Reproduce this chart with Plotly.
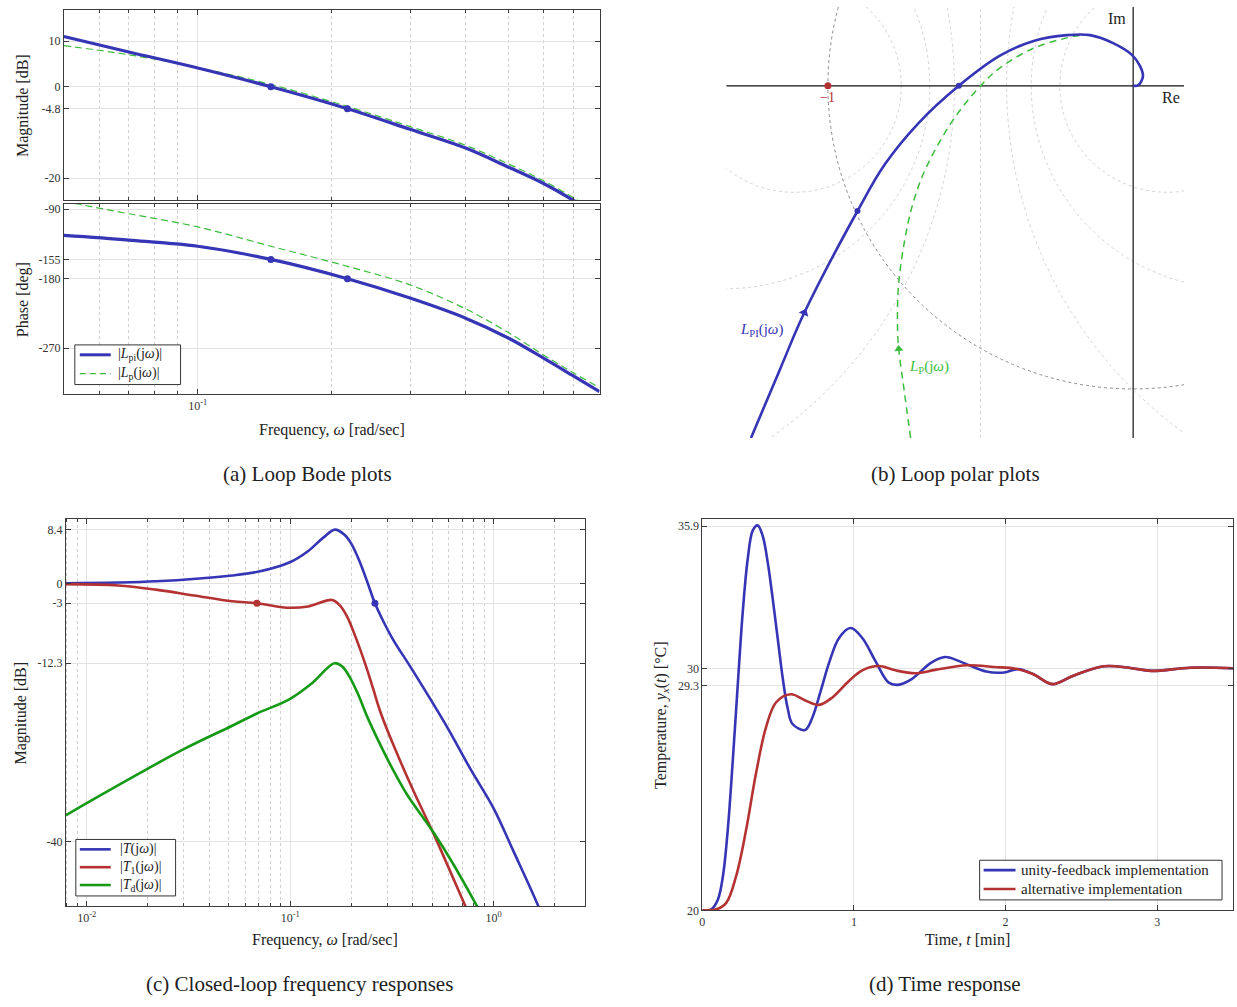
import plotly.graph_objects as go
import numpy as np

# ---------------- data ----------------
# (a) Loop Bode plots
bode_w = [0.05, 0.07, 0.1, 0.146, 0.217, 0.3, 0.4, 0.5, 0.6, 0.7, 0.75]
mag_pi = [11.0, 7.6, 4.1, 0.0, -4.8, -9.3, -13.4, -17.6, -21.2, -24.9, -26.8]
mag_p = [9.0, 7.0, 4.2, 0.5, -4.3, -8.7, -12.8, -16.9, -20.6, -24.3, -26.2]
phase_w_pi = [0.05, 0.07, 0.1, 0.146, 0.217, 0.3, 0.4, 0.5, 0.6, 0.7, 0.8]
phase_pi = [-124, -130, -138, -155, -180, -205, -231, -257, -283, -306, -326]
phase_w_p = [0.05, 0.0555, 0.07, 0.1, 0.146, 0.217, 0.3, 0.4, 0.5, 0.6, 0.7, 0.8]
phase_p = [-80, -85, -96, -113, -138, -164, -188, -219, -250, -279, -302, -321]
bode_mark_w = [0.146, 0.217]
bode_mark_mag = [0.0, -4.8]
bode_mark_phase = [-155, -180]

# (b) Loop polar plots (Re, Im)
lpi_re = [-1.252, -1.156, -1.077, -0.903, -0.814, -0.703, -0.571, -0.435,
          -0.326, -0.217, -0.141, -0.064, -0.004, 0.023, 0.032, 0.017, 0.0]
lpi_im = [-1.162, -0.933, -0.748, -0.413, -0.260, -0.123, 0.0, 0.100,
          0.148, 0.167, 0.167, 0.140, 0.102, 0.064, 0.031, 0.002, 0.0]
lp_re = [-0.729, -0.751, -0.768, -0.772, -0.768, -0.742, -0.718, -0.680, -0.592, -0.500,
         -0.435, -0.326, -0.217, -0.141, -0.064, -0.004, 0.023, 0.032, 0.017, 0.0]
lp_im = [-1.162, -0.998, -0.868, -0.792, -0.650, -0.475, -0.377, -0.274, -0.116, 0.0,
         0.060, 0.124, 0.158, 0.167, 0.140, 0.102, 0.064, 0.031, 0.002, 0.0]
polar_mark_re = [-0.903, -0.571]
polar_mark_im = [-0.413, 0.0]
crit_re = [-1.0]
crit_im = [0.0]
arrow_pi = (-1.077, -0.748, 23)
arrow_p = (-0.768, -0.868, -5)
m_circle_db = [-10, -6, -3, 3, 6, 10]

# (c) Closed-loop frequency responses
T_w = [0.0079, 0.0219, 0.0519, 0.0702, 0.099, 0.1228, 0.146, 0.166, 0.185, 0.2, 0.22,
       0.24, 0.261, 0.285, 0.32, 0.398, 0.591, 0.769, 1.0, 1.25, 1.66, 1.8]
T_db = [0.1, 0.4, 1.3, 1.9, 3.3, 5.1, 7.2, 8.4, 7.6, 6.2, 3.4,
        0.2, -3.0, -5.6, -8.6, -13.3, -22.2, -28.7, -34.8, -41.4, -50.0, -53.0]
T1_w = [0.0079, 0.01425, 0.0219, 0.0337, 0.0519, 0.0687, 0.0966, 0.1228, 0.161, 0.175,
        0.19, 0.21, 0.235, 0.256, 0.278, 0.32, 0.405, 0.508, 0.727, 0.8]
T1_db = [-0.05, -0.25, -0.9, -1.8, -2.7, -3.0, -3.7, -3.5, -2.5, -3.3,
         -5.0, -8.3, -12.6, -16.3, -19.9, -24.8, -32.2, -38.8, -50.0, -53.0]
Td_w = [0.0079, 0.01, 0.0201, 0.031, 0.0519, 0.0687, 0.099, 0.128, 0.165, 0.18,
        0.195, 0.215, 0.24, 0.278, 0.32, 0.376, 0.508, 0.632, 0.83, 0.9]
Td_db = [-35.9, -34.0, -28.6, -25.4, -22.0, -20.1, -17.9, -15.4, -12.3, -12.8,
         -14.3, -17.0, -20.7, -25.0, -28.8, -32.7, -38.6, -43.4, -50.0, -52.0]
T_mark = (0.261, -3.0)
T1_mark = (0.0687, -3.0)

# (d) Time response
t_uf = [0, 0.059, 0.103, 0.136, 0.168, 0.201, 0.234, 0.267, 0.300, 0.333, 0.365, 0.398,
        0.431, 0.464, 0.497, 0.530, 0.562, 0.595, 0.678, 0.726, 0.781, 0.836, 0.902,
        0.978, 1.055, 1.142, 1.230, 1.290, 1.381, 1.510, 1.601, 1.718, 1.873, 1.990,
        2.080, 2.184, 2.308, 2.443, 2.650, 2.832, 2.961, 3.220, 3.5]
y_uf = [20, 20.04, 20.45, 21.41, 23.33, 26.2, 29.35, 32.37, 34.56, 35.72, 35.93, 35.5,
        34.42, 32.91, 31.27, 29.63, 28.39, 27.71, 27.46, 27.98, 29.08, 30.24, 31.27,
        31.68, 31.27, 30.31, 29.42, 29.33, 29.57, 30.25, 30.48, 30.25, 29.88, 29.84,
        29.98, 29.77, 29.36, 29.70, 30.10, 30.02, 29.91, 30.04, 30.02]
t_alt = [0, 0.092, 0.158, 0.223, 0.289, 0.354, 0.420, 0.486, 0.584, 0.683, 0.770, 0.858,
         0.967, 1.055, 1.164, 1.273, 1.407, 1.536, 1.744, 1.925, 2.067, 2.184, 2.308,
         2.443, 2.650, 2.832, 2.961, 3.220, 3.5]
y_alt = [20, 20.04, 20.31, 21.41, 23.33, 25.66, 27.57, 28.6, 28.94, 28.67, 28.5, 28.81,
         29.49, 29.93, 30.11, 29.93, 29.81, 29.95, 30.14, 30.07, 30.0, 29.77, 29.36,
         29.70, 30.10, 30.02, 29.91, 30.04, 30.02]

# tick labels
a_mag_ticks = [10, 0, -4.8, -20]
a_phase_ticks = [-90, -155, -180, -270]
c_mag_ticks = [8.4, 0, -3, -12.3, -40]
d_temp_ticks = [20, 29.3, 30, 35.9]
d_time_ticks = [0, 1, 2, 3]

# legend labels
lbl_pi = "|<i>L</i><sub>pi</sub>(j<i>ω</i>)|"
lbl_p = "|<i>L</i><sub>p</sub>(j<i>ω</i>)|"
lbl_T = "|<i>T</i>(j<i>ω</i>)|"
lbl_T1 = "|<i>T</i><sub>1</sub>(j<i>ω</i>)|"
lbl_Td = "|<i>T</i><sub>d</sub>(j<i>ω</i>)|"
lbl_uf = "unity-feedback implementation"
lbl_alt = "alternative implementation"

# ---------------- styling ----------------
W, H = 1237, 1007
def px(x): return x / W
def py(y): return 1 - y / H

FONT = "Liberation Serif, Times New Roman, serif"
BLUE = "#3535b5"
RED = "#b43232"
GREEN = "#169a16"
GREEN_D = "#3cbc3c"
AXC = "#3c3c3c"
GRID = "#e3e3e3"
MINOR = "#cfcfcf"
DASH = "7px,4px"

fig = go.Figure()

def spl(x, y, xa, ya, color, width, name=None, dash=None):
    fig.add_trace(go.Scatter(
        x=x, y=y, xaxis=xa, yaxis=ya, mode="lines",
        line=dict(color=color, width=width, shape="spline", smoothing=1.0, dash=dash),
        name=name, showlegend=False, hoverinfo="skip"))

def dots(x, y, xa, ya, color, size=7):
    fig.add_trace(go.Scatter(x=x, y=y, xaxis=xa, yaxis=ya, mode="markers",
                             marker=dict(color=color, size=size), showlegend=False,
                             hoverinfo="skip"))

# (a) top
spl(bode_w, mag_p, "x", "y", GREEN_D, 1.2, name=lbl_p, dash=DASH)
spl(bode_w, mag_pi, "x", "y", BLUE, 3.2, name=lbl_pi)
dots(bode_mark_w, bode_mark_mag, "x", "y", BLUE)
# (a) bottom
spl(phase_w_p, phase_p, "x2", "y2", GREEN_D, 1.2, name=lbl_p, dash=DASH)
spl(phase_w_pi, phase_pi, "x2", "y2", BLUE, 3.2, name=lbl_pi)
dots(bode_mark_w, bode_mark_phase, "x2", "y2", BLUE)

# (b) polar
spl(lp_re, lp_im, "x3", "y3", GREEN_D, 1.5, dash="7px,5px")
spl(lpi_re, lpi_im, "x3", "y3", BLUE, 2.6)
dots(polar_mark_re, polar_mark_im, "x3", "y3", BLUE, 6)
dots(crit_re, crit_im, "x3", "y3", RED, 7)
fig.add_trace(go.Scatter(x=[arrow_pi[0]], y=[arrow_pi[1]], xaxis="x3", yaxis="y3", mode="markers",
                         marker=dict(symbol="triangle-up", size=9, color=BLUE, angle=arrow_pi[2]),
                         showlegend=False, hoverinfo="skip"))
fig.add_trace(go.Scatter(x=[arrow_p[0]], y=[arrow_p[1]], xaxis="x3", yaxis="y3", mode="markers",
                         marker=dict(symbol="triangle-up", size=8, color=GREEN_D, angle=arrow_p[2]),
                         showlegend=False, hoverinfo="skip"))

# (c)
spl(T_w, T_db, "x4", "y4", BLUE, 2.6, name=lbl_T)
spl(T1_w, T1_db, "x4", "y4", RED, 2.6, name=lbl_T1)
spl(Td_w, Td_db, "x4", "y4", GREEN, 2.6, name=lbl_Td)
dots([T_mark[0]], [T_mark[1]], "x4", "y4", BLUE, 7)
dots([T1_mark[0]], [T1_mark[1]], "x4", "y4", RED, 7)

# (d)
spl(t_uf, y_uf, "x5", "y5", BLUE, 2.6, name=lbl_uf)
spl(t_alt, y_alt, "x5", "y5", RED, 2.6, name=lbl_alt)

# ---------------- axes ----------------
tickfont = dict(family=FONT, size=12, color="#333")
base = dict(showline=True, linecolor=AXC, linewidth=1, mirror="ticks", ticks="inside",
            ticklen=5, tickcolor=AXC, gridcolor=GRID, gridwidth=1, zeroline=False,
            tickfont=tickfont, showspikes=False)

def fmt(v):
    return "%g" % v

a_minor = [0.06, 0.07, 0.08, 0.09, 0.2, 0.3, 0.4, 0.5, 0.6, 0.7]
c_minor = [0.008, 0.009, 0.02, 0.03, 0.04, 0.05, 0.06, 0.07, 0.08, 0.09,
           0.2, 0.3, 0.4, 0.5, 0.6, 0.7, 0.8, 0.9, 2]
minor_a = dict(tickvals=a_minor, ticks="inside", ticklen=3, tickcolor=AXC,
               showgrid=True, gridcolor=MINOR, griddash="dot", gridwidth=1)
minor_c = dict(tickvals=c_minor, ticks="inside", ticklen=3, tickcolor=AXC,
               showgrid=True, gridcolor=MINOR, griddash="dot", gridwidth=1)

xr_a = [np.log10(0.05), np.log10(0.8)]
fig.update_layout(
    xaxis=dict(base, type="log", domain=[px(61), px(598)], range=xr_a, anchor="y",
               tickvals=[0.1], showticklabels=False, minor=minor_a),
    yaxis=dict(base, domain=[py(200), py(8)], range=[-24.8, 16.8], anchor="x",
               tickvals=a_mag_ticks, ticktext=[fmt(v) for v in a_mag_ticks]),
    xaxis2=dict(base, type="log", domain=[px(61), px(598)], range=xr_a, anchor="y2",
                tickvals=[0.1], ticktext=["10<sup>-1</sup>"], minor=minor_a),
    yaxis2=dict(base, domain=[py(396), py(204)], range=[-329.7, -83.6], anchor="x2",
                tickvals=a_phase_ticks, ticktext=[fmt(v) for v in a_phase_ticks]),
    xaxis3=dict(visible=False, domain=[px(725), px(1184)], range=[-1.333, 0.167], anchor="y3"),
    yaxis3=dict(visible=False, domain=[py(440), py(5)], range=[-1.162, 0.26], anchor="x3"),
    xaxis4=dict(base, type="log", domain=[px(63), px(583)],
                range=[np.log10(0.0079), np.log10(2.8)], anchor="y4",
                tickvals=[0.01, 0.1, 1], ticktext=["10<sup>-2</sup>", "10<sup>-1</sup>", "10<sup>0</sup>"],
                minor=minor_c),
    yaxis4=dict(base, domain=[py(912.5), py(522)], range=[-50, 10], anchor="x4",
                tickvals=c_mag_ticks, ticktext=[fmt(v) for v in c_mag_ticks]),
    xaxis5=dict(base, domain=[px(701), px(1233)], range=[0, 3.5], anchor="y5",
                tickvals=d_time_ticks, ticktext=[fmt(v) for v in d_time_ticks]),
    yaxis5=dict(base, domain=[py(916.5), py(521.5)], range=[20, 36.2], anchor="x5",
                tickvals=d_temp_ticks, ticktext=[fmt(v) for v in d_temp_ticks]),
)

# polar grid: M-circles, unit circle, axes
shapes = []
for mdb in m_circle_db:
    M = 10 ** (mdb / 20)
    c = -M * M / (M * M - 1)
    r = abs(M / (M * M - 1))
    shapes.append(dict(type="circle", xref="x3", yref="y3", x0=c - r, x1=c + r, y0=-r, y1=r,
                       line=dict(color="#d2d2d2", width=1, dash="dot"), layer="below"))
shapes.append(dict(type="line", xref="x3", yref="y3", x0=-0.5, x1=-0.5, y0=-1.162, y1=0.26,
                   line=dict(color="#d2d2d2", width=1, dash="dot"), layer="below"))
shapes.append(dict(type="circle", xref="x3", yref="y3", x0=-1, x1=1, y0=-1, y1=1,
                   line=dict(color="#8a8a8a", width=1, dash="dot"), layer="below"))
shapes.append(dict(type="line", xref="x3", yref="y3", x0=-1.333, x1=0.167, y0=0, y1=0,
                   line=dict(color="#111", width=1.2), layer="below"))
shapes.append(dict(type="line", xref="x3", yref="y3", x0=0, x1=0, y0=-1.162, y1=0.26,
                   line=dict(color="#111", width=1.2), layer="below"))

ann = []
def text(x, y, s, size=16, color="#222", angle=0, xanchor="center", yanchor="middle"):
    ann.append(dict(x=px(x), y=py(y), xref="paper", yref="paper", text=s, showarrow=False,
                    font=dict(family=FONT, size=size, color=color), textangle=angle,
                    xanchor=xanchor, yanchor=yanchor))

# hand-built legend boxes (to match the compact boxes of the reference)
def legend_box(x0, y0, x1, y1, entries, sx0, sx1, tx, size=14):
    shapes.append(dict(type="rect", xref="paper", yref="paper", x0=px(x0), x1=px(x1),
                       y0=py(y1), y1=py(y0), line=dict(color="#333", width=1),
                       fillcolor="white", layer="above"))
    for (yy, color, width, dash, label) in entries:
        shapes.append(dict(type="line", xref="paper", yref="paper", x0=px(sx0), x1=px(sx1),
                           y0=py(yy), y1=py(yy), layer="above",
                           line=dict(color=color, width=width, dash=dash)))
        text(tx, yy, label, size=size, xanchor="left")

legend_box(72, 346, 178, 386,
           [(356, BLUE, 3, None, lbl_pi), (375, GREEN_D, 1.2, "6px,4px", lbl_p)],
           77, 108, 113)
legend_box(73, 845, 173, 902,
           [(855, BLUE, 2.6, None, lbl_T), (873, RED, 2.6, None, lbl_T1),
            (891, GREEN, 2.6, None, lbl_Td)],
           77, 108, 115)
legend_box(979, 866, 1222, 906,
           [(876, BLUE, 2.6, None, lbl_uf), (895, RED, 2.6, None, lbl_alt)],
           983, 1015, 1018, size=15)

text(20, 104, "Magnitude [dB]", angle=-90)
text(20, 300, "Phase [deg]", angle=-90)
text(330, 432, "Frequency, <i>ω</i> [rad/sec]")
text(305, 476, "(a) Loop Bode plots", size=21)
text(955, 476, "(b) Loop polar plots", size=21)
text(1117, 17, "Im", size=16)
text(1171, 96, "Re", size=16)
text(827, 96, "−1", size=14, color=RED)
text(760, 331, "<i>L</i><sub>PI</sub>(j<i>ω</i>)", size=15, color=BLUE)
text(928, 368, "<i>L</i><sub>P</sub>(j<i>ω</i>)", size=15, color=GREEN_D)
text(18, 717, "Magnitude [dB]", angle=-90)
text(323, 946, "Frequency, <i>ω</i> [rad/sec]")
text(297, 991, "(c) Closed-loop frequency responses", size=21)
text(660, 719, "Temperature, <i>y<sub>x</sub></i>(<i>t</i>) [°C]", angle=-90)
text(967, 946, "Time, <i>t</i> [min]")
text(944, 991, "(d) Time response", size=21)

fig.update_layout(
    width=W, height=H, margin=dict(l=0, r=0, t=0, b=0),
    paper_bgcolor="white", plot_bgcolor="white",
    shapes=shapes, annotations=ann, showlegend=False,
    font=dict(family=FONT),
)

fig.write_html("out.html",
               config={"displayModeBar": False},
               post_script="document.body.style.margin='0px';"
                           "document.documentElement.style.overflow='hidden';")
